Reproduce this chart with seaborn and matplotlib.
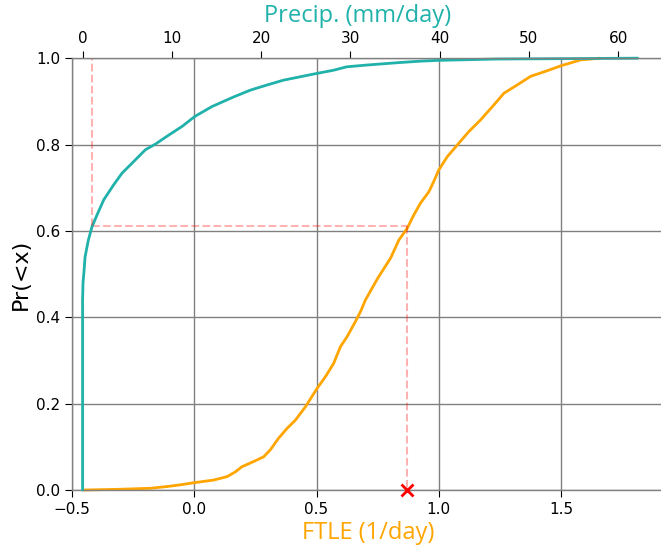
import matplotlib
matplotlib.use("Agg")
import matplotlib.pyplot as plt
import pandas as pd
import seaborn as sns

# Empirical CDF of the finite-time Lyapunov exponent (1/day)
ftle_values = [-0.455, -0.317, -0.18, -0.112, -0.057, 0.0, 0.079, 0.134, 0.168,
               0.195, 0.243, 0.284, 0.311, 0.345, 0.380, 0.414, 0.455, 0.502,
               0.536, 0.570, 0.598, 0.625, 0.659, 0.680, 0.700, 0.750, 0.803,
               0.837, 0.871, 0.898, 0.925, 0.960, 0.980, 1.000, 1.035, 1.076,
               1.123, 1.171, 1.226, 1.267, 1.321, 1.376, 1.444, 1.503, 1.581,
               1.66]
ftle_cdf = [0.0, 0.0015, 0.004, 0.008, 0.012, 0.017, 0.023, 0.031, 0.042,
            0.054, 0.066, 0.077, 0.093, 0.12, 0.143, 0.162, 0.193, 0.235,
            0.262, 0.293, 0.332, 0.355, 0.39, 0.413, 0.44, 0.49, 0.537,
            0.579, 0.606, 0.637, 0.664, 0.691, 0.715, 0.741, 0.772, 0.799,
            0.830, 0.857, 0.892, 0.919, 0.938, 0.958, 0.971, 0.983, 0.996,
            1.0]

# Empirical CDF of precipitation (mm/day)
precip_values = [0.0, 0.0, 0.05, 0.17, 0.28, 0.65, 1.06, 1.62, 2.37, 3.49,
                 4.43, 5.55, 7.04, 8.16, 9.66, 11.15, 12.57, 14.5, 16.9, 18.8,
                 20.6, 22.5, 24.4, 26.2, 28.1, 29.6, 31.8, 35.6, 37.8, 40.0,
                 46.4, 55.0, 62.2]
precip_cdf = [0.0, 0.44, 0.48, 0.509, 0.54, 0.579, 0.610, 0.637, 0.672, 0.707,
              0.734, 0.757, 0.788, 0.801, 0.822, 0.842, 0.865, 0.888, 0.910,
              0.926, 0.9375, 0.949, 0.957, 0.9645, 0.972, 0.980, 0.984, 0.990,
              0.993, 0.995, 0.998, 0.999, 1.0]

# Quantile matching: precipitation threshold -> same probability -> FTLE
p_level = 0.611
precip_at_level = 1.1
ftle_at_level = 0.872

ftle_ticks = [-0.5, 0.0, 0.5, 1.0, 1.5]
precip_ticks = [0, 10, 20, 30, 40, 50, 60]
prob_ticks = [0.0, 0.2, 0.4, 0.6, 0.8, 1.0]

TEAL = "lightseagreen"
ORANGE = "orange"
DASH = (1.0, 0.0, 0.0, 0.3)
LABEL_FONT = ["Open Sans", "DejaVu Sans"]

sns.set_style("white")
plt.rcParams["font.family"] = ["DejaVu Sans"]

ftle_df = pd.DataFrame({"x": ftle_values, "p": ftle_cdf})
precip_df = pd.DataFrame({"x": precip_values, "p": precip_cdf})

fig = plt.figure(figsize=(6.61, 5.54), dpi=100)
ax = fig.add_axes([0.109, 0.1155, 0.895, 0.7795])
ax2 = ax.twiny()

sns.lineplot(data=ftle_df, x="x", y="p", ax=ax, color=ORANGE, lw=2,
             estimator=None, sort=False, clip_on=False)
sns.lineplot(data=precip_df, x="x", y="p", ax=ax2, color=TEAL, lw=2,
             estimator=None, sort=False, clip_on=False)

ax.set_xlim(-0.5, 1.92)
ax2.set_xlim(-1.18, 65.1)
ax.set_ylim(0, 1)

ax.set_xticks(ftle_ticks)
ax.set_yticks(prob_ticks)
ax2.set_xticks(precip_ticks)

ax.set_axisbelow(True)
ax.grid(True, color="gray", lw=1)
ax2.grid(False)

for a in (ax, ax2):
    for sp in a.spines.values():
        sp.set_color("gray")
        sp.set_linewidth(1)
    a.spines["right"].set_visible(False)
    a.tick_params(labelsize=11, length=5, width=0.8, color="black",
                  labelcolor="black")
ax.spines["top"].set_visible(False)
ax2.spines["bottom"].set_visible(False)
ax2.spines["left"].set_visible(False)
ax.tick_params(axis="x", bottom=True, top=False)
ax.tick_params(axis="y", left=True)
ax2.tick_params(axis="x", top=True, bottom=False)

# Dashed guides: precipitation threshold up to its probability, across to FTLE, down to axis
ax2.plot([precip_at_level, precip_at_level], [p_level, 1.0], ls="--", lw=1.5,
         color=DASH, clip_on=False)
disp = ax2.transData.transform((precip_at_level, p_level))
x_start = ax.transData.inverted().transform(disp)[0]
ax.plot([x_start, ftle_at_level], [p_level, p_level], ls="--", lw=1.5, color=DASH)
ax.plot([ftle_at_level, ftle_at_level], [p_level, 0.0], ls="--", lw=1.5, color=DASH)
ax.plot([ftle_at_level], [0.0], marker="x", color="red", ms=9, mew=2,
        clip_on=False, zorder=5)

ax.set_xlabel("FTLE (1/day)", color=ORANGE, fontsize=17, family=LABEL_FONT,
              labelpad=3)
ax2.set_xlabel("Precip. (mm/day)", color=TEAL, fontsize=17, family=LABEL_FONT,
               labelpad=7)
ax2.xaxis.label.set_x(0.482)
ax.set_ylabel("Pr(<x)", fontsize=16, color="black")

fig.savefig("out.png", dpi=100)
